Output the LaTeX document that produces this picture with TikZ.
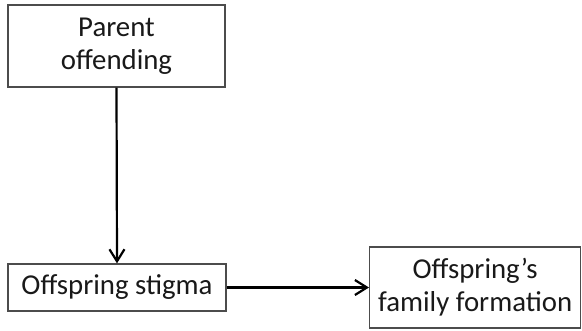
\documentclass[tikz,border=0pt]{standalone}
\usepackage{fontspec}
\setmainfont{Carlito}
\usetikzlibrary{arrows.meta}
\begin{document}
\begin{tikzpicture}[x=1pt,y=-1pt,
  box/.style={draw=black!70,line width=1.3pt,fill=white,inner sep=0pt,align=center,
    font=\fontsize{28.8}{33}\selectfont,text=black!90},
  arr/.style={line width=2.2pt,-{Straight Barb[length=12pt,width=15pt,line width=2.2pt]}}]
\useasboundingbox (0,0) rectangle (582,330);
\node[box,minimum width=217pt,minimum height=82pt] (parent) at (116.5,46) {Parent\\offending};
\node[box,minimum width=218pt,minimum height=47pt] (stigma) at (117,287.5) {Offspring stigma};
\node[box,minimum width=211pt,minimum height=81pt,anchor=west] (family) at (369,287.5) {Offspring’s\\family formation};
\draw[arr] (parent.south) -- (stigma.north);
\draw[arr] (stigma.east) -- (family.west);
\end{tikzpicture}
\end{document}
